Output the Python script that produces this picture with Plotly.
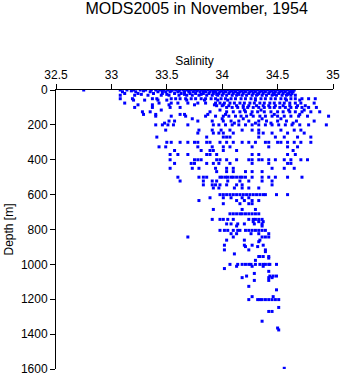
import plotly.graph_objects as go

# Bottle/CTD salinity observations, grouped by sampling depth (m): (depth, [salinity, ...])
surface_obs = [
    (0, [32.75, 33.08, 33.14, 33.20, 33.26, 33.31, 33.36, 33.40, 33.44, 33.47, 33.51, 33.55, 33.58,
         33.62, 33.65, 33.68, 33.72, 33.75, 33.78, 33.81, 33.84, 33.87, 33.90, 33.93, 33.96, 33.99,
         34.02, 34.05, 34.08, 34.11, 34.14, 34.17, 34.20, 34.23, 34.26, 34.29, 34.32, 34.35, 34.38,
         34.41, 34.44, 34.47, 34.50, 34.53, 34.56, 34.59, 34.62, 34.65]),
    (5, [33.18, 33.29, 33.46, 33.54, 33.61, 33.70, 33.77, 33.83, 33.92, 34.00, 34.09, 34.18, 34.27,
         34.36, 34.45, 34.54, 34.63]),
    (10, [33.10, 33.22, 33.35, 33.42, 33.49, 33.53, 33.60, 33.66, 33.70, 33.74, 33.80, 33.85, 33.89,
          33.94, 33.98, 34.03, 34.07, 34.12, 34.16, 34.21, 34.25, 34.30, 34.34, 34.39, 34.43, 34.48,
          34.52, 34.57, 34.61, 34.64]),
    (20, [33.12, 33.24, 33.38, 33.46, 33.57, 33.63, 33.71, 33.76, 33.83, 33.88, 33.92, 33.97, 34.01,
          34.06, 34.10, 34.14, 34.19, 34.24, 34.28, 34.33, 34.37, 34.42, 34.46, 34.51, 34.55, 34.60,
          34.63]),
    (25, [33.27, 33.50, 33.66, 33.81, 33.95, 34.15, 34.32, 34.47, 34.59]),
    (30, [33.08, 33.21, 33.33, 33.45, 33.52, 33.61, 33.68, 33.73, 33.79, 33.86, 33.91, 33.96, 34.00,
          34.04, 34.09, 34.13, 34.18, 34.22, 34.27, 34.31, 34.36, 34.40, 34.45, 34.49, 34.54, 34.58,
          34.62, 34.66]),
    (50, [33.08, 33.19, 33.37, 33.41, 33.54, 33.58, 33.62, 33.67, 33.72, 33.76, 33.81, 33.85, 33.90,
          33.94, 33.99, 34.03, 34.08, 34.12, 34.17, 34.21, 34.26, 34.30, 34.35, 34.39, 34.44, 34.48,
          34.53, 34.57, 34.62, 34.66, 34.72, 34.78, 34.84]),
    (58, [33.20, 33.30, 33.42, 33.50, 33.68, 33.84, 33.96, 34.05, 34.30, 34.58, 34.70]),
    (75, [33.12, 33.43, 33.54, 33.60, 33.69, 33.78, 33.85, 33.94, 33.98, 34.02, 34.07, 34.11, 34.16,
          34.20, 34.25, 34.29, 34.34, 34.38, 34.43, 34.47, 34.52, 34.56, 34.61, 34.66, 34.71, 34.83]),
    (85, [33.24, 33.37, 33.52, 33.75, 33.93, 34.01]),
    (90, [33.95, 34.00, 34.06, 34.13, 34.19, 34.24, 34.31, 34.37, 34.42, 34.48, 34.55, 34.61, 34.68,
          34.75]),
    (100, [33.21, 33.37, 33.53, 33.62, 34.04, 34.09, 34.14, 34.19, 34.23, 34.28, 34.33, 34.38, 34.43,
           34.47, 34.52, 34.57, 34.62, 34.67, 34.72, 34.78, 34.85]),
    (115, [33.45, 33.98, 34.20, 34.35, 34.60, 34.74]),
    (125, [33.28, 33.35, 33.89, 34.04, 34.10, 34.16, 34.21, 34.27, 34.32, 34.38, 34.44, 34.50, 34.55,
           34.61, 34.66, 34.72, 34.80, 34.88]),
    (140, [33.29, 33.40, 33.62, 33.66, 33.87, 34.03, 34.26, 34.47, 34.70]),
    (150, [33.40, 33.54, 33.67, 33.85, 33.94, 34.01, 34.06, 34.12, 34.17, 34.22, 34.28, 34.34, 34.39,
           34.45, 34.50, 34.56, 34.62, 34.69, 34.77, 34.96]),
    (165, [33.73, 34.00, 34.19, 34.36, 34.53]),
    (178, [33.52, 33.57, 33.78, 33.91, 34.01, 34.08, 34.15, 34.24, 34.33, 34.40, 34.50, 34.58, 34.67,
           34.83]),
    (190, [33.48, 34.11, 34.30, 34.44, 34.64]),
    (200, [33.40, 33.46, 33.51, 33.56, 33.69, 33.92, 33.97, 34.03, 34.09, 34.15, 34.21, 34.27, 34.33,
           34.39, 34.45, 34.51, 34.57, 34.63, 34.70, 34.78, 34.94]),
]

intermediate_obs = [
    (230, [33.49, 33.79, 33.91, 33.99, 34.07, 34.18, 34.27, 34.33, 34.53, 34.65, 34.71]),
    (247, [33.78, 33.92, 33.97, 34.01, 34.10, 34.33, 34.37, 34.45, 34.59, 34.74]),
    (270, [33.41, 33.86, 34.01, 34.04, 34.07, 34.33, 34.48, 34.56, 34.68, 34.80]),
    (300, [33.50, 33.54, 33.62, 33.69, 33.75, 33.78, 33.86, 33.89, 33.98, 34.04, 34.10, 34.18, 34.24,
           34.30, 34.39, 34.42, 34.50, 34.53, 34.59, 34.65, 34.71, 34.80]),
    (326, [33.43, 33.49, 33.78, 33.91, 34.01, 34.07, 34.27, 34.42, 34.59, 34.68]),
    (347, [33.57, 33.81, 33.89, 33.92, 34.01, 34.13, 34.64]),
    (370, [33.53, 33.60, 33.69, 33.86, 33.89, 33.95, 34.27, 34.33, 34.59, 34.66]),
    (400, [33.53, 33.75, 33.78, 33.81, 33.95, 33.98, 34.04, 34.13, 34.24, 34.27, 34.33, 34.36, 34.42,
           34.48, 34.56, 34.62, 34.71, 34.77]),
    (421, [33.57, 33.72, 33.75, 33.86, 33.92, 33.97, 34.07, 34.27, 34.42, 34.59, 34.62]),
    (449, [33.53, 33.73, 33.79, 33.94, 34.04, 34.10, 34.45, 34.56, 34.65]),
    (468, [33.95, 34.04, 34.10, 34.21, 34.27, 34.36]),
    (500, [33.60, 33.79, 33.83, 33.86, 33.98, 34.00, 34.03, 34.05, 34.08, 34.10, 34.13, 34.16, 34.18,
           34.21, 34.27, 34.36, 34.42, 34.48, 34.59, 34.72]),
    (522, [33.62, 33.83, 33.91, 33.95, 34.05, 34.16, 34.24, 34.36, 34.45]),
    (544, [33.83, 33.91, 33.94, 33.98, 34.04, 34.13, 34.18, 34.45]),
    (562, [33.92, 33.97, 34.11, 34.18, 34.24, 34.33]),
    (600, [33.98, 34.01, 34.04, 34.07, 34.10, 34.13, 34.16, 34.19, 34.22, 34.25, 34.28, 34.31, 34.34,
           34.37, 34.39, 34.49, 34.59]),
    (618, [33.89, 34.01, 34.08, 34.18, 34.24]),
    (634, [33.79, 34.13, 34.20, 34.27, 34.33]),
    (652, [34.01, 34.16, 34.24, 34.27]),
    (685, [33.92, 34.18, 34.30]),
    (710, [34.07, 34.10, 34.13, 34.16, 34.18, 34.21, 34.24, 34.27, 34.30, 34.33]),
    (742, [33.91, 33.98, 34.01, 34.05, 34.10, 34.24, 34.28, 34.30, 34.33, 34.36]),
    (755, [34.28, 34.33, 34.37]),
    (768, [34.04, 34.08, 34.14, 34.20, 34.29, 34.36]),
    (780, [34.13, 34.36]),
]

deep_obs = [
    (805, [33.98, 34.02, 34.05, 34.10, 34.14, 34.16, 34.21, 34.24, 34.27, 34.30, 34.33, 34.36, 34.39]),
    (824, [34.08, 34.13, 34.26, 34.33, 34.42]),
    (843, [33.69, 34.10, 34.36, 34.39, 34.42]),
    (861, [34.04, 34.20, 34.34]),
    (870, [34.33]),
    (890, [34.02, 34.20, 34.27, 34.37]),
    (898, [34.21, 34.32]),
    (917, [34.02, 34.24, 34.39]),
    (927, [34.39]),
    (940, [34.11]),
    (955, [34.33, 34.34, 34.37, 34.42]),
    (964, [34.42]),
    (977, [34.30]),
    (1000, [34.07, 34.14, 34.18, 34.21, 34.24, 34.26, 34.30, 34.34, 34.37, 34.39, 34.42, 34.43,
            34.49]),
    (1011, [34.13, 34.27, 34.37]),
    (1024, [34.02]),
    (1040, [34.42]),
    (1052, [34.29]),
    (1067, [34.22, 34.43, 34.46, 34.49]),
    (1076, [34.18, 34.42, 34.45]),
    (1092, [34.29, 34.42]),
    (1126, [34.24]),
    (1146, [34.49]),
    (1185, [34.27, 34.46]),
    (1202, [34.24, 34.32, 34.34, 34.36, 34.39, 34.42, 34.45, 34.48, 34.51]),
    (1247, [34.51]),
    (1270, [34.42, 34.45]),
    (1326, [34.36]),
    (1365, [34.50]),
    (1376, [34.51]),
    (1596, [34.56]),
]

depth_ticks = [0, 200, 400, 600, 800, 1000, 1200, 1400, 1600]
salinity_ticks = [32.5, 33, 33.5, 34, 34.5, 35]

salinity, depth = [], []
for layer in (surface_obs, intermediate_obs, deep_obs):
    for d, values in layer:
        for s in values:
            salinity.append(s)
            depth.append(d)

FONT = "Liberation Sans, Arial, Helvetica, sans-serif"

fig = go.Figure(
    go.Scatter(
        x=salinity,
        y=depth,
        mode="markers",
        marker=dict(symbol="square", size=3, color="#0000ff", line=dict(width=0)),
        hoverinfo="x+y",
    )
)

axis_common = dict(
    showgrid=False,
    zeroline=False,
    showline=True,
    linecolor="black",
    linewidth=1,
    ticks="outside",
    ticklen=5,
    tickwidth=1,
    tickcolor="black",
    tickfont=dict(family=FONT, size=12, color="black"),
)

fig.update_layout(
    width=348,
    height=384,
    margin=dict(l=54, r=8, t=90, b=9),
    paper_bgcolor="white",
    plot_bgcolor="white",
    showlegend=False,
    title=dict(
        text="MODS2005 in November, 1954",
        x=0.565,
        xanchor="center",
        y=0.978,
        yanchor="middle",
        yref="container",
        font=dict(family=FONT, size=16, color="black"),
    ),
    xaxis=dict(
        side="top",
        range=[32.5, 35],
        tickvals=salinity_ticks,
        ticktext=[f"{t:g}" for t in salinity_ticks],
        title=dict(text="Salinity", font=dict(family=FONT, size=12, color="black"), standoff=0),
        **axis_common,
    ),
    yaxis=dict(
        range=[1600, 0],
        tickvals=depth_ticks,
        title=dict(text="Depth [m]", font=dict(family=FONT, size=12, color="black"), standoff=4),
        **axis_common,
    ),
)

fig.write_html("out.html")
